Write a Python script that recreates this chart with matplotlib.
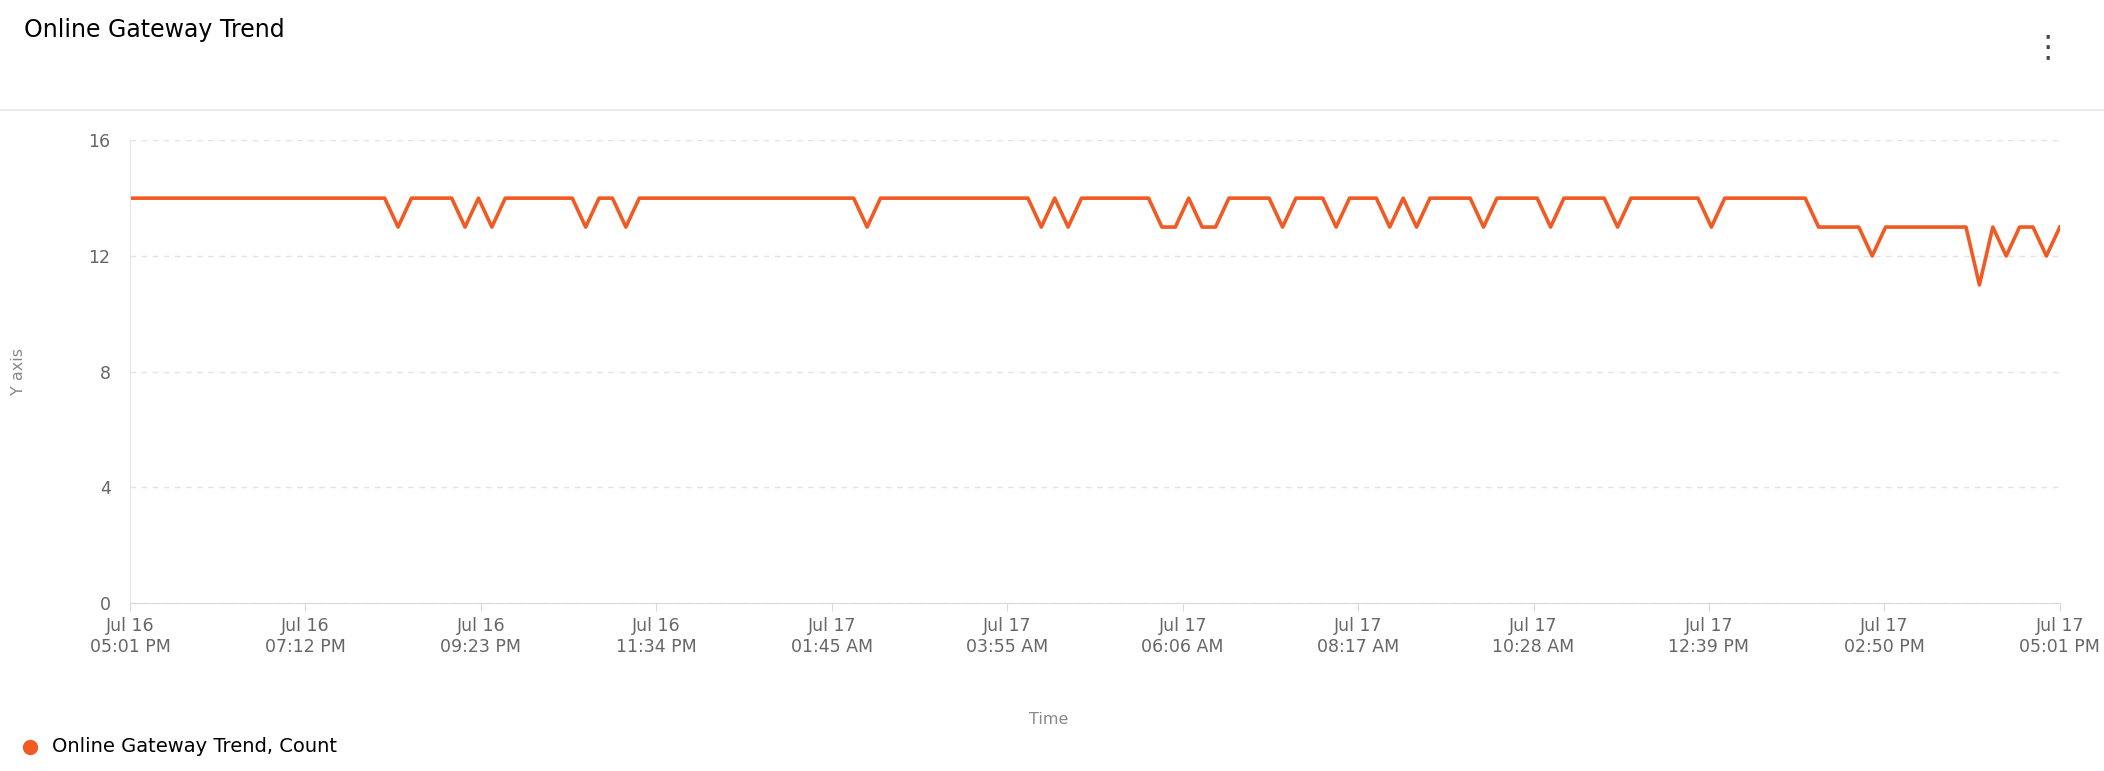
import numpy as np
import matplotlib.pyplot as plt
from matplotlib.lines import Line2D

# ============================================================
# DATA (10-minute samples, Jul 16 05:01 PM -> Jul 17 05:01 PM)
# ============================================================
counts = [
    14, 14, 14, 14, 14, 14, 14, 14, 14, 14, 14, 14, 14, 14, 14, 14, 14, 14, 14, 14, 13, 14, 14, 14,
    14, 13, 14, 13, 14, 14, 14, 14, 14, 14, 13, 14, 14, 13, 14, 14, 14, 14, 14, 14, 14, 14, 14, 14,
    14, 14, 14, 14, 14, 14, 14, 13, 14, 14, 14, 14, 14, 14, 14, 14, 14, 14, 14, 14, 13, 14, 13, 14,
    14, 14, 14, 14, 14, 13, 13, 14, 13, 13, 14, 14, 14, 14, 13, 14, 14, 14, 13, 14, 14, 14, 13, 14,
    13, 14, 14, 14, 14, 13, 14, 14, 14, 14, 13, 14, 14, 14, 14, 13, 14, 14, 14, 14, 14, 14, 13, 14,
    14, 14, 14, 14, 14, 14, 13, 13, 13, 13, 12, 13, 13, 13, 13, 13, 13, 13, 11, 13, 12, 13, 13, 12,
    13,
]
minutes = np.arange(len(counts)) * 10

tick_labels = [
    "Jul 16\n05:01 PM", "Jul 16\n07:12 PM", "Jul 16\n09:23 PM", "Jul 16\n11:34 PM",
    "Jul 17\n01:45 AM", "Jul 17\n03:55 AM", "Jul 17\n06:06 AM", "Jul 17\n08:17 AM",
    "Jul 17\n10:28 AM", "Jul 17\n12:39 PM", "Jul 17\n02:50 PM", "Jul 17\n05:01 PM",
]
y_ticks = [0, 4, 8, 12, 16]

ORANGE = "#f15a22"
GRAY = "#666666"

# ============================================================
# PLOT
# ============================================================
fig = plt.figure(figsize=(21.04, 7.71), dpi=100)
ax = fig.add_axes([0.0618, 0.218, 0.979 - 0.0618, 0.818 - 0.218])

ax.plot(minutes, counts, color=ORANGE, lw=2.6, solid_joinstyle="round")

ax.set_xlim(0, 1440)
ax.set_ylim(0, 16)
ax.set_xticks(np.linspace(0, 1440, len(tick_labels)))
ax.set_xticklabels(tick_labels, fontsize=12.5, color=GRAY)
ax.set_yticks(y_ticks)
ax.set_yticklabels([str(v) for v in y_ticks], fontsize=12.5, color=GRAY)
ax.grid(axis="y", color="#e3e3e3", ls=(0, (4, 4)), lw=1)
ax.tick_params(axis="y", length=0, pad=14)
ax.tick_params(axis="x", length=6, color="#d9d9d9", pad=4)
for s in ["top", "right"]:
    ax.spines[s].set_visible(False)
ax.spines["left"].set_color("#e6e6e6")
ax.spines["bottom"].set_color("#d9d9d9")

# texts around the chart
fig.text(24 / 2104, 1 - 30 / 771, "Online Gateway Trend", fontsize=17, va="center", ha="left")
fig.text(2048 / 2104, 1 - 48 / 771, "\u22ee", fontsize=22, va="center", ha="center", color="#444444")
fig.add_artist(Line2D([0, 1], [1 - 110 / 771] * 2, color="#e6e6e6", lw=1.2))
fig.text(19 / 2104, 0.518, "Y axis", rotation=90, fontsize=11.5, color="#888888", va="center", ha="center")
fig.text(1049 / 2104, 1 - 719 / 771, "Time", fontsize=11.5, color="#888888", va="center", ha="center")
fig.add_artist(Line2D([30 / 2104], [1 - 747 / 771], marker="o", ms=10, color=ORANGE, lw=0))
fig.text(52 / 2104, 1 - 747 / 771, "Online Gateway Trend, Count", fontsize=14, va="center", ha="left")

fig.savefig("out.png", dpi=100)
